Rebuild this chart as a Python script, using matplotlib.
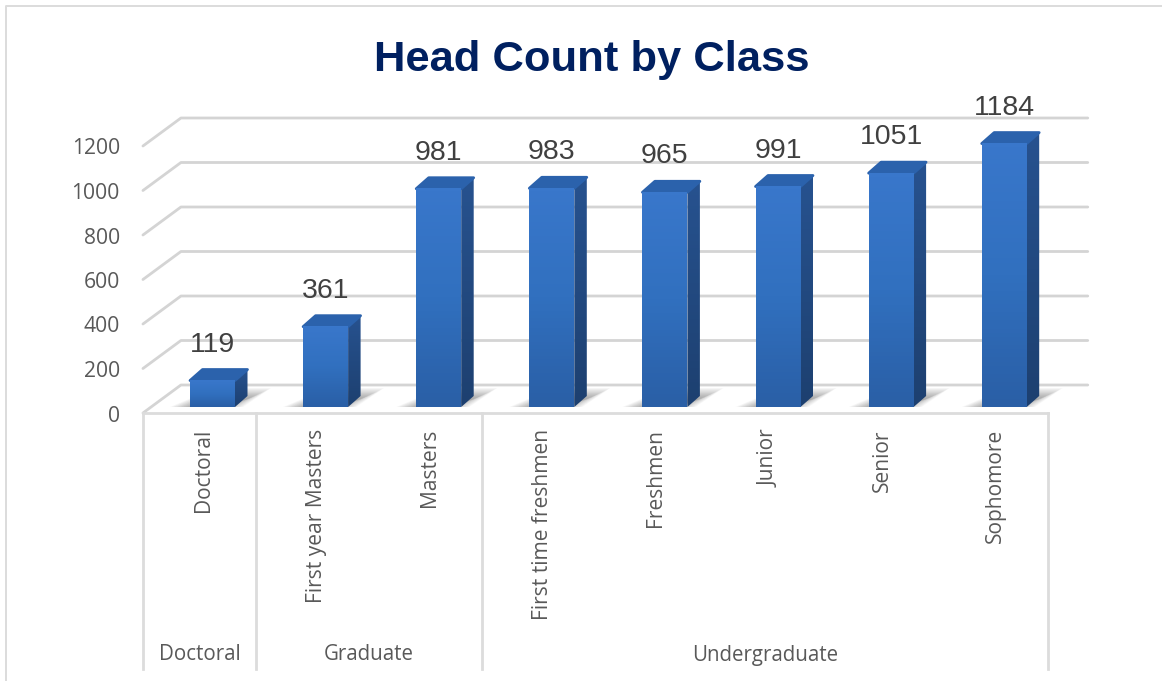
import numpy as np
import matplotlib
matplotlib.use('Agg')
import matplotlib.pyplot as plt
from matplotlib.colors import LinearSegmentedColormap
from matplotlib.patches import Polygon
from matplotlib.transforms import Affine2D

W, H = 1162, 681

# dane
categories = ['Doctoral', 'First year Masters', 'Masters', 'First time freshmen',
              'Freshmen', 'Junior', 'Senior', 'Sophomore']
values = [119, 361, 981, 983, 965, 991, 1051, 1184]
groups = ['Doctoral', 'Graduate', 'Undergraduate']
group_sizes = [1, 2, 5]
y_ticks = [0, 200, 400, 600, 800, 1000, 1200]

fig = plt.figure(figsize=(W / 100, H / 100), dpi=100, facecolor='white')
ax = fig.add_axes([0, 0, 1, 1])
ax.axis('off')

# skala: 1 kategoria = 113.1 px, 1 jednostka = 0.2225 px
px_x = 1 / 113.1
px_y = 1 / 0.2225
x0, y0 = 199.5, 407
xlim = ((0 - x0) * px_x, (W - x0) * px_x)
ylim = ((y0 - H) * px_y, y0 * px_y)

pix = Affine2D().scale(1 / W, -1 / H).translate(0, 1) + fig.transFigure

grid_c = '#d4d4d4'
sep_c = '#dcdcdc'
txt_c = '#595959'
sans = ['Open Sans', 'DejaVu Sans']

# ramka
ax.plot([6, 6, W], [H, 6, 6], transform=pix, color='#dcdcdc', lw=1.4, zorder=1)

# siatka
left = -0.5
right = len(categories) - 0.5
for v in y_ticks:
    xs = [left, left + 38 * px_x, right + 40 * px_x]
    yb = v - 6 * px_y
    ys = [yb, yb + 28 * px_y, yb + 28 * px_y]
    ax.plot(xs, ys, color=grid_c, lw=2.0, zorder=2, solid_capstyle='round')
    ax.text(left - 23 * px_x, yb - 3 * px_y, str(v), color=txt_c, fontsize=15.2, family=sans,
            ha='right', va='center')

# os kategorii (tabela)
floor = -6 * px_y
bottom = (y0 - 669) * px_y
ax.plot([left, right], [floor, floor], color=sep_c, lw=2, zorder=3)
edges = np.concatenate([[0], np.cumsum(group_sizes)]) - 0.5
for e in edges:
    ax.plot([e, e], [floor, bottom], color=sep_c, lw=2, zorder=3)
for i, g in enumerate(groups):
    ax.text((edges[i] + edges[i + 1]) / 2, (y0 - 655) * px_y, g, color=txt_c, fontsize=14.8,
            family=sans, ha='center', va='center')
for i, c in enumerate(categories):
    ax.text(i + 4 * px_x, (y0 - 429) * px_y, c, color=txt_c, fontsize=15.1, family=sans,
            rotation=90, ha='center', va='top')

# slupki
front_cm = LinearSegmentedColormap.from_list('f', ['#3977cb', '#3170bf', '#2a5fa6'])
side_cm = LinearSegmentedColormap.from_list('s', ['#27528f', '#1d4070'])
grad = np.linspace(0, 1, 64).reshape(-1, 1)
bw = 45 * px_x
dx, dy = 12.5 * px_x, 11 * px_y
off = 13 * px_x

for i, v in enumerate(values):
    l = i + off - bw / 2
    r = l + bw
    # cien na podlodze
    for k in range(14):
        g = k * 1.7
        shadow = Polygon([(l - (20 - g) * px_x, 0), (r + (8 - g) * px_x, 0),
                          (r + (36 - g) * px_x, (19 - g / 2) * px_y),
                          (l + 25 * px_x, (19 - g / 2) * px_y)],
                         closed=True, fc='#404040', ec='none', alpha=0.04, zorder=4)
        ax.add_patch(shadow)
    # bok
    side = Polygon([(r, 0), (r + dx, dy), (r + dx, v + dy), (r, v)], closed=True,
                   fc='none', ec='none', zorder=5)
    ax.add_patch(side)
    im = ax.imshow(grad, cmap=side_cm, extent=(r, r + dx, 0, v + dy), aspect='auto', zorder=5)
    im.set_clip_path(side)
    # gora
    ax.add_patch(Polygon([(l, v), (r, v), (r + dx, v + dy), (l + dx, v + dy)], closed=True,
                         fc='#2b62ac', ec='#2b62ac', lw=2, joinstyle='round', zorder=6))
    # przod
    ax.imshow(grad, cmap=front_cm, extent=(l, r, 0, v), aspect='auto', zorder=7)
    ax.text(i + 13 * px_x, v + 36 * px_y, str(v), color='#404040', fontsize=20.5,
            family=['Liberation Sans'], ha='center', va='center', zorder=8)

ax.set_xlim(xlim)
ax.set_ylim(ylim)

ax.text(592, 59.5, 'Head Count by Class', transform=pix, color='#002060', fontsize=31.3,
        fontweight='bold', family=['Liberation Sans'], ha='center', va='center')

fig.savefig('out.png', dpi=100)
